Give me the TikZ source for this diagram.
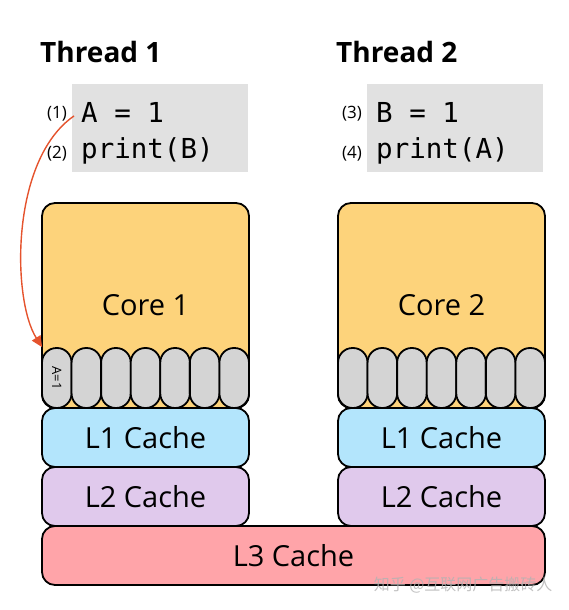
\documentclass[tikz,border=0pt]{standalone}
\usepackage{fontspec}
\setmainfont{Open Sans}
\newfontfamily\codefont{DejaVu Sans Mono}
\newfontfamily\cjkfont{Noto Sans CJK SC}
\usetikzlibrary{arrows.meta,positioning}
\definecolor{corecol}{HTML}{FDD37B}
\definecolor{lonecol}{HTML}{B3E5FC}
\definecolor{ltwocol}{HTML}{E0C9EC}
\definecolor{lthreecol}{HTML}{FFA4A9}
\definecolor{pillcol}{HTML}{D4D4D4}
\definecolor{codecol}{HTML}{E1E1E1}
\definecolor{arrowcol}{HTML}{E5532D}
\tikzset{
	cachebox/.style={draw,line width=1.8pt,rounded corners=13pt,inner sep=0pt,font=\fontsize{29}{30}\selectfont},
	corebox/.style={cachebox,fill=corecol,minimum width=207pt,minimum height=205pt},
	lone/.style={cachebox,fill=lonecol,minimum width=207pt,minimum height=59pt},
	ltwo/.style={cachebox,fill=ltwocol,minimum width=207pt,minimum height=59pt},
	lthree/.style={cachebox,fill=lthreecol,minimum width=503pt,minimum height=59pt},
	pill/.style={draw,line width=1.8pt,fill=pillcol,rounded corners=14.5pt,minimum width=29.57pt,minimum height=60pt,inner sep=0pt},
	codebg/.style={fill=codecol,minimum width=176pt,minimum height=88pt,inner sep=0pt},
	codeline/.style={anchor=base west,inner sep=0pt,font=\codefont\fontsize{27.5}{29}\selectfont},
	stepnum/.style={anchor=base east,inner sep=0pt,font=\fontsize{17}{18}\selectfont},
	thread/.style={anchor=base west,inner sep=0pt,font=\bfseries\fontsize{28}{30}\selectfont},
	every new ->/.style={shorten >=1pt}
}
\begin{document}
\begin{tikzpicture}[x=1pt,y=-1pt]
			\useasboundingbox (0,0) rectangle (568,610);
			\node[thread] (t1) at (40,63) {Thread 1};
			\node[thread] (t2) at (336,63) {Thread 2};

			\node[codebg] (code1) at (160,128) {};
			\node[codebg] (code2) at (455,128) {};
			\node[codeline] (a1) at (81,122) {A = 1};
			\node[codeline] (pb) at (81,158) {print(B)};
			\node[codeline] (b1) at (376,122) {B = 1};
			\node[codeline] (pa) at (376,158) {print(A)};
			\node[stepnum] (s1) at (67,118) {(1)};
			\node[stepnum] (s2) at (67,158) {(2)};
			\node[stepnum] (s3) at (362,118) {(3)};
			\node[stepnum] (s4) at (362,158) {(4)};

			\node[corebox] (core1) at (145.5,305.5) {Core 1};
			\node[corebox] (core2) at (441.5,305.5) {Core 2};
			\foreach \i in {1,...,7} {
				\node[pill] (pa\i) at ({42+29.57*(\i-0.5)},378) {};
				\node[pill] (pb\i) at ({338+29.57*(\i-0.5)},378) {};
			}
			\node[rotate=-90,inner sep=0pt,font=\fontsize{13}{14}\selectfont] (store) at (pa1) {A=1};

			\node[lone] (l1a) at (145.5,437.5) {L1 Cache};
			\node[lone] (l1b) at (441.5,437.5) {L1 Cache};
			\node[ltwo] (l2a) at (145.5,496.5) {L2 Cache};
			\node[ltwo] (l2b) at (441.5,496.5) {L2 Cache};
			\node[lthree] (l3) at (293.5,555.5) {L3 Cache};

			\draw[arrowcol,line width=1.4pt,-{Triangle[length=11pt,width=10pt]}] ([xshift=-7pt,yshift=-4pt]a1.west) .. controls (10,160) and (12,300) .. ([xshift=1pt]pa1.north west);

			\node[text=gray!60,opacity=0.8,font=\cjkfont\fontsize{16}{18}\selectfont,anchor=east] (mark) at (556,585) {知乎 @互联网广告搬砖人};
		\end{tikzpicture}
\end{document}
